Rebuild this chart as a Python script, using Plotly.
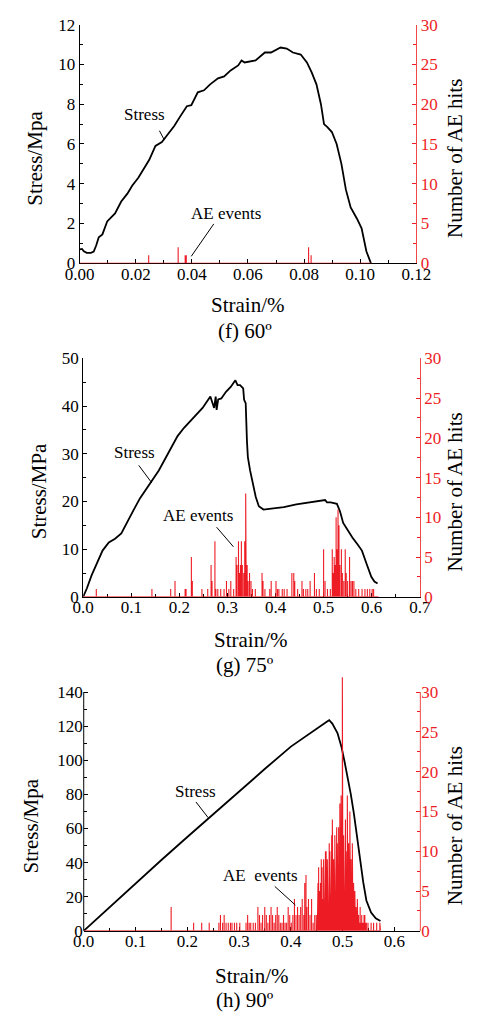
import plotly.graph_objects as go

W, H = 481, 1021
FONT = "Liberation Serif, Times New Roman, Times, serif"
RED = "#ed1c24"

# ---------------- (f) 60º ----------------
f_strain = [0.0, 0.0008, 0.0015, 0.0025, 0.004, 0.005, 0.0059, 0.0068, 0.0081, 0.0098, 0.0126,
            0.0148, 0.0170, 0.0187, 0.0209, 0.0226, 0.0248, 0.0270, 0.0293, 0.0315, 0.0337,
            0.0359, 0.0382, 0.0398, 0.0421, 0.0443, 0.0465, 0.0493, 0.0515, 0.0538, 0.0565,
            0.0577, 0.0588, 0.0627, 0.0660, 0.0682, 0.0716, 0.0738, 0.0760, 0.0788, 0.0810,
            0.0827, 0.0844, 0.0860, 0.0871, 0.0883, 0.0899, 0.0916, 0.0933, 0.0949, 0.0966,
            0.0988, 0.1005, 0.1022, 0.1038]
f_stress = [0.7, 0.72, 0.6, 0.52, 0.52, 0.58, 0.9, 1.3, 1.45, 2.1, 2.5,
            3.1, 3.5, 3.9, 4.3, 4.7, 5.2, 5.9, 6.1, 6.5, 6.9,
            7.4, 7.9, 7.95, 8.6, 8.7, 9.0, 9.3, 9.4, 9.7, 9.95,
            10.2, 10.1, 10.2, 10.6, 10.6, 10.85, 10.8, 10.6, 10.5, 10.1,
            9.6, 9.0, 8.0, 7.0, 6.85, 6.6, 6.0, 5.0, 3.7, 2.8,
            2.25, 1.75, 0.6, 0.0]
f_ae_strain = [0.0246, 0.0351, 0.0376, 0.0380, 0.0816, 0.0825]
f_ae_hits = [1, 2, 1, 1, 2, 1]
f_ae_end = 0.104

# ---------------- (g) 75º ----------------
g_strain = [0.0, 0.0078, 0.0175, 0.0273, 0.0403, 0.0533, 0.0663, 0.0793, 0.0923, 0.1053,
            0.1183, 0.1313, 0.1443, 0.1573, 0.1703, 0.1833, 0.1963, 0.2093, 0.2223, 0.2353,
            0.2483, 0.2645, 0.2678, 0.2723, 0.2756, 0.2775, 0.2808, 0.2873, 0.2970, 0.3068,
            0.3165, 0.3211, 0.3263, 0.3328, 0.3347, 0.3380, 0.3406, 0.3425, 0.3471, 0.3523,
            0.3588, 0.3653, 0.3750, 0.3913, 0.4173, 0.4433, 0.4693, 0.4953, 0.5031, 0.5070,
            0.5148, 0.5277, 0.5342, 0.5407, 0.5505, 0.5602, 0.5700, 0.5797, 0.5895, 0.5992,
            0.6057, 0.6122]
g_stress = [0.0, 1.8, 4.5, 6.9, 9.7, 11.4, 12.2, 13.3, 15.9, 18.3,
            20.7, 22.7, 24.5, 26.5, 28.9, 31.3, 33.7, 35.4, 36.8, 38.2,
            39.6, 42.0, 41.0, 39.6, 42.0, 39.2, 41.4, 41.6, 43.0, 44.0,
            45.4, 44.4, 44.4, 43.7, 41.3, 40.6, 32.7, 29.3, 26.5, 23.8,
            21.0, 19.0, 18.3, 18.5, 18.8, 19.4, 19.8, 20.1, 20.3, 19.8,
            19.8, 19.5, 17.9, 15.5, 13.8, 12.4, 11.1, 9.7, 6.9, 4.2,
            3.2, 2.8]
g_ae_strain = [0.0273, 0.143, 0.182, 0.191, 0.212, 0.214, 0.225, 0.227, 0.247, 0.259,
               0.266, 0.268, 0.274, 0.276, 0.280, 0.286, 0.293, 0.298, 0.303, 0.307,
               0.313, 0.318, 0.320, 0.323, 0.325, 0.327, 0.329, 0.331, 0.334, 0.336,
               0.338, 0.339, 0.341, 0.343, 0.346, 0.349, 0.352, 0.358, 0.372, 0.374,
               0.378, 0.388, 0.391, 0.401, 0.404, 0.407, 0.414, 0.418, 0.424, 0.434,
               0.438, 0.440, 0.446, 0.455, 0.458, 0.463, 0.467, 0.472, 0.481, 0.485,
               0.491, 0.500, 0.503, 0.508, 0.514, 0.518, 0.520, 0.522, 0.524, 0.526,
               0.528, 0.530, 0.532, 0.534, 0.537, 0.539, 0.542, 0.545, 0.547, 0.550,
               0.554, 0.557, 0.560, 0.563, 0.567, 0.573, 0.580, 0.586, 0.591, 0.596,
               0.601, 0.604]
g_ae_hits = [1, 1, 1, 2, 1, 1, 5, 2, 1, 1,
             4, 2, 7, 1, 1, 1, 1, 2, 1, 2,
             1, 5, 4, 7, 3, 4, 7, 4, 3, 7,
             13, 10, 4, 2, 3, 2, 1, 1, 3, 2,
             1, 1, 2, 2, 1, 1, 1, 1, 1, 3,
             3, 2, 1, 2, 1, 1, 1, 2, 3, 1,
             1, 6, 2, 1, 1, 6, 3, 5, 4, 10,
             6, 11, 9, 4, 6, 3, 2, 6, 3, 2,
             5, 2, 2, 2, 1, 1, 1, 1, 1, 1,
             1, 1]
g_ae_end = 0.614

# ---------------- (h) 90º ----------------
h_strain = [0.0, 0.05, 0.1, 0.15, 0.2, 0.25, 0.3, 0.35, 0.4, 0.43, 0.45, 0.46, 0.47, 0.474,
            0.48, 0.49, 0.4976, 0.5036, 0.5097, 0.5157, 0.5217, 0.5277, 0.5338, 0.5398,
            0.5458, 0.5549, 0.5639, 0.573]
h_stress = [0.0, 14.0, 28.0, 41.5, 55.0, 68.5, 82.0, 95.0, 108.0, 114.5, 119.0, 121.0, 122.8, 123.5,
            121.5, 116.0, 108.0, 99.3, 89.8, 80.2, 68.7, 55.2, 39.9, 28.4,
            17.8, 10.7, 7.3, 5.8]
h_ae_strain = [0.1688, 0.2122, 0.2278, 0.2423, 0.2610, 0.2640, 0.2682, 0.2712, 0.2749, 0.2791,
               0.2833, 0.2863, 0.2911, 0.2954, 0.3014, 0.3134, 0.3165, 0.3195, 0.3225, 0.3273,
               0.3315, 0.3363, 0.3394, 0.3424, 0.3454, 0.3496, 0.3526, 0.3556, 0.3587, 0.3617,
               0.3647, 0.3677, 0.3707, 0.3737, 0.3767, 0.3797, 0.3828, 0.3858, 0.3888, 0.3918,
               0.3948, 0.3978, 0.4008, 0.4039, 0.4069, 0.4099, 0.4129, 0.4159, 0.4189, 0.4219,
               0.4250, 0.4268, 0.4292, 0.4310, 0.4340, 0.4370, 0.4400, 0.4430, 0.4461, 0.4491,
               0.4511, 0.4524, 0.4536, 0.4554, 0.4572, 0.4587, 0.4602, 0.4617, 0.4632, 0.4644,
               0.4656, 0.4668, 0.4680, 0.4692, 0.4704, 0.4716, 0.4729, 0.4741, 0.4753, 0.4765,
               0.4777, 0.4789, 0.4801, 0.4813, 0.4825, 0.4837, 0.4849, 0.4861, 0.4873, 0.4885,
               0.4897, 0.4910, 0.4922, 0.4934, 0.4946, 0.4958, 0.4970, 0.4982, 0.4994, 0.5006,
               0.5018, 0.5030, 0.5042, 0.5054, 0.5066, 0.5078, 0.5090, 0.5102, 0.5115, 0.5127,
               0.5139, 0.5151, 0.5163, 0.5175, 0.5187, 0.5199, 0.5211, 0.5223, 0.5235, 0.5247,
               0.5259, 0.5271, 0.5283, 0.5295, 0.5308, 0.5323, 0.5338, 0.5353, 0.5368, 0.5383,
               0.5398, 0.5413, 0.5428, 0.5443, 0.5458, 0.5489, 0.5549, 0.5597, 0.5657, 0.5718]
h_ae_hits = [3, 1, 1, 1, 1, 2, 1, 2, 1, 1,
             1, 1, 1, 1, 1, 1, 2, 1, 1, 1,
             1, 3, 2, 1, 2, 3, 2, 1, 2, 3,
             2, 1, 2, 3, 2, 1, 1, 2, 1, 1,
             3, 2, 1, 2, 4, 2, 3, 2, 3, 4,
             2, 6, 7, 3, 4, 2, 4, 1, 2, 2,
             4, 6, 8, 5, 6, 9, 8, 4, 9, 7,
             6, 10, 10, 5, 9, 8, 7, 11, 10, 6,
             8, 12, 14, 7, 9, 5, 12, 10, 8, 13,
             11, 6, 13, 9, 16, 12, 17, 10, 32, 8,
             12, 6, 9, 14, 10, 7, 17, 9, 11, 6,
             15, 8, 9, 5, 11, 7, 6, 4, 5, 3,
             3, 2, 4, 1, 2, 1, 3, 1, 2, 1,
             1, 2, 2, 1, 1, 1, 1, 1, 1, 1]
h_ae_end = 0.573


def impulses(xs, hs, end):
    X, Y = [0.0], [0.0]
    for x, h in sorted(zip(xs, hs)):
        X += [x, x, x]
        Y += [0, h, 0]
    X.append(end)
    Y.append(0)
    return X, Y


def px(x):
    return x / W


def py(y):
    return 1 - y / H


fig = go.Figure()

panels = [
    (f_strain, f_stress, f_ae_strain, f_ae_hits, f_ae_end, "x", "y", "y2"),
    (g_strain, g_stress, g_ae_strain, g_ae_hits, g_ae_end, "x2", "y3", "y4"),
    (h_strain, h_stress, h_ae_strain, h_ae_hits, h_ae_end, "x3", "y5", "y6"),
]

for s, st, ax_, ah, aend, xa, yl, yr in panels:
    X, Y = impulses(ax_, ah, aend)
    fig.add_trace(go.Scatter(x=X, y=Y, xaxis=xa, yaxis=yr, mode="lines",
                             line=dict(color=RED, width=1.1), showlegend=False,
                             hoverinfo="skip"))
    fig.add_trace(go.Scatter(x=s, y=st, xaxis=xa, yaxis=yl, mode="lines",
                             line=dict(color="black", width=1.8), showlegend=False))

tickfont = dict(family=FONT, size=17, color="black")
redfont = dict(family=FONT, size=17, color=RED)


def xax(domain, rng, dtick, anchor, fmt):
    return dict(domain=domain, range=rng, dtick=dtick, anchor=anchor, tickformat=fmt,
                showline=True, linecolor="black", linewidth=1, ticks="inside",
                ticklen=4, tickcolor="black", tickfont=tickfont, showgrid=False,
                zeroline=False, layer="below traces", ticklabelstandoff=-5,
                minor=dict(dtick=dtick / 2, ticks="inside", ticklen=3, tickcolor="black"))


def ylax(domain, rng, dtick, anchor, showline=True):
    return dict(domain=domain, range=rng, dtick=dtick, anchor=anchor,
                showline=showline, linecolor="black", linewidth=1, ticks="inside",
                ticklen=4, tickcolor="black", tickfont=tickfont, showgrid=False,
                zeroline=False,
                minor=dict(dtick=dtick / 2, ticks="inside", ticklen=3, tickcolor="black"))


def yrax(overlay, rng, anchor, showline=True):
    return dict(overlaying=overlay, side="right", range=rng, dtick=5, anchor=anchor,
                showline=showline, linecolor="#f04848", linewidth=1, ticks="inside",
                ticklen=4, tickcolor=RED, tickfont=redfont, showgrid=False,
                zeroline=False,
                minor=dict(dtick=2.5, ticks="inside", ticklen=3, tickcolor=RED))


# Panel geometry (pixels)
p1 = dict(x0=69, x1=428, y0=16, y1=259)
p2 = dict(x0=72.7, x1=431.7, y0=356, y1=599)
p3 = dict(x0=73.3, x1=432.3, y0=696, y1=939.3, ytop=681)

h_left_top = 140 * (p3["y1"] - p3["ytop"]) / (p3["y1"] - p3["y0"])
h_right_top = 30 * (p3["y1"] - p3["ytop"]) / (p3["y1"] - p3["y0"])

fig.update_layout(
    width=W, height=H, margin=dict(l=0, r=0, t=0, b=0),
    paper_bgcolor="white", plot_bgcolor="white", showlegend=False,
    font=dict(family=FONT, color="black"),
    xaxis=xax([px(p1["x0"]), px(p1["x1"])], [0, 0.12], 0.02, "y", ".2f"),
    yaxis=ylax([py(p1["y1"]), py(p1["y0"])], [0, 12], 2, "x"),
    yaxis2=yrax("y", [0, 30], "x"),
    xaxis2=xax([px(p2["x0"]), px(p2["x1"])], [0, 0.7], 0.1, "y3", ".1f"),
    yaxis3=ylax([py(p2["y1"]), py(p2["y0"])], [0, 50], 10, "x2"),
    yaxis4=yrax("y3", [0, 30], "x2"),
    xaxis3=xax([px(p3["x0"]), px(p3["x1"])], [0, 0.65], 0.1, "y5", ".1f"),
    yaxis5=ylax([py(p3["y1"]), py(p3["ytop"])], [0, h_left_top], 20, "x3", showline=False),
    yaxis6=yrax("y5", [0, h_right_top], "x3", showline=False),
)
fig.layout.yaxis5.tickvals = [0, 20, 40, 60, 80, 100, 120, 140]
fig.layout.yaxis6.tickvals = [0, 5, 10, 15, 20, 25, 30]

shapes = []
# vertical axis lines for panel (h), ending at the top tick
shapes.append(dict(type="line", xref="paper", yref="paper",
                   x0=px(p3["x0"]), x1=px(p3["x0"]), y0=py(p3["y1"]), y1=py(p3["y0"]),
                   line=dict(color="black", width=1)))
shapes.append(dict(type="line", xref="paper", yref="paper",
                   x0=px(p3["x1"]), x1=px(p3["x1"]), y0=py(p3["y1"]), y1=py(p3["y0"]),
                   line=dict(color="#f04848", width=1)))

# leader lines (pixel coordinates)
leaders = [
    ((154, 124), (159, 133)), ((212, 219), (188, 252)),
    ((132, 465), (146, 483)), ((215, 528), (233, 548)),
    ((193, 808), (206, 824)), ((277, 894), (299, 913)),
]
for (a, b) in leaders:
    shapes.append(dict(type="line", xref="paper", yref="paper",
                       x0=px(a[0]), y0=py(a[1]), x1=px(b[0]), y1=py(b[1]),
                       line=dict(color="black", width=1)))
fig.update_layout(shapes=shapes)

annots = []


def txt(text, x, y, size, angle=0, color="black"):
    annots.append(dict(text=text, x=px(x), y=py(y), xref="paper", yref="paper",
                       showarrow=False, xanchor="center", yanchor="middle",
                       textangle=angle, font=dict(family=FONT, size=size, color=color)))


# panel (f)
txt("Stress", 138, 107, 17)
txt("AE events", 225, 208, 17)
txt("Strain/%", 249, 302, 21)
txt("(f) 60º", 245, 328, 21)
txt("Stress/Mpa", 22, 152, 21, -90)
txt("Number of AE hits", 469, 152, 21, -90)
# panel (g)
txt("Stress", 127, 452, 17)
txt("AE events", 195, 516, 17)
txt("Strain/%", 252, 643, 21)
txt("(g) 75º", 245, 668, 21)
txt("Stress/MPa", 25, 491, 21, -90)
txt("Number of AE hits", 469, 492, 21, -90)
# panel (h)
txt("Stress", 192, 797, 17)
txt("AE&nbsp; events", 262, 883, 17)
txt("Strain/%", 253, 985, 21)
txt("(h) 90º", 245, 1010, 21)
txt("Stress/Mpa", 17, 832, 21, -90)
txt("Number of AE hits", 469, 832, 21, -90)

fig.update_layout(annotations=annots)

fig.write_html("out.html")
